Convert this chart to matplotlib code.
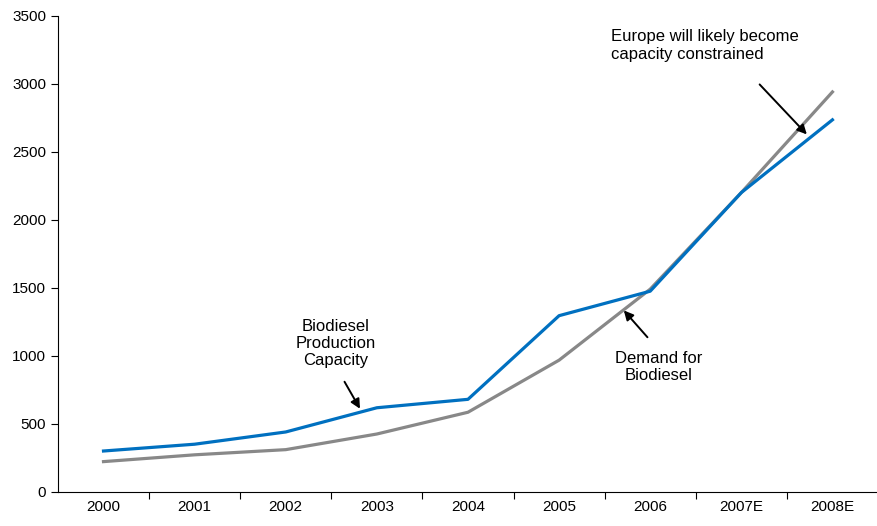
import matplotlib.pyplot as plt

plt.rcParams['font.family'] = ['Liberation Sans', 'DejaVu Sans']

# Biodiesel capacity vs demand
years = ['2000', '2001', '2002', '2003', '2004', '2005', '2006', '2007E', '2008E']
capacity = [300, 350, 440, 618, 680, 1295, 1475, 2200, 2735]
demand = [222, 272, 310, 425, 585, 968, 1490, 2200, 2940]

fig = plt.figure(figsize=(8.78, 5.26), dpi=100)
ax = fig.add_axes([0.066, 0.065, 0.934, 0.905])

x = list(range(len(years)))
ax.plot(x, demand, color='#888888', linewidth=2.3, zorder=2)
ax.plot(x, capacity, color='#0070C0', linewidth=2.3, zorder=3)

ax.set_xlim(-0.5, len(years) - 0.5)
ax.set_ylim(0, 3500)
ax.set_yticks(range(0, 3501, 500))
ax.set_xticks(x)
ax.set_xticklabels(years)
ax.set_xticks([i + 0.5 for i in x[:-1]], minor=True)
ax.tick_params(axis='x', which='major', length=0, pad=6, labelsize=11)
ax.tick_params(axis='x', which='minor', length=5, width=0.8)
ax.tick_params(axis='y', length=5, width=0.8, labelsize=11)

for side in ['top', 'right']:
    ax.spines[side].set_visible(False)
for side in ['left', 'bottom']:
    ax.spines[side].set_linewidth(0.8)

arrow = dict(arrowstyle='-|>', color='black', lw=1.4, mutation_scale=14)
note = dict(fontsize=12, linespacing=1.2)

ax.annotate('', xy=(2.83, 593), xytext=(2.63, 827), arrowprops=arrow)
ax.text(2.55, 1091, 'Biodiesel\nProduction\nCapacity', ha='center', va='center', **note)

ax.annotate('', xy=(5.69, 1349), xytext=(5.99, 1121), arrowprops=arrow)
ax.text(6.09, 916, 'Demand for\nBiodiesel', ha='center', va='center', **note)

ax.annotate('', xy=(7.74, 2613), xytext=(7.18, 3010), arrowprops=arrow)
ax.text(5.57, 3282, 'Europe will likely become\ncapacity constrained', ha='left',
        va='center', **note)

fig.savefig('out.png', dpi=100)
